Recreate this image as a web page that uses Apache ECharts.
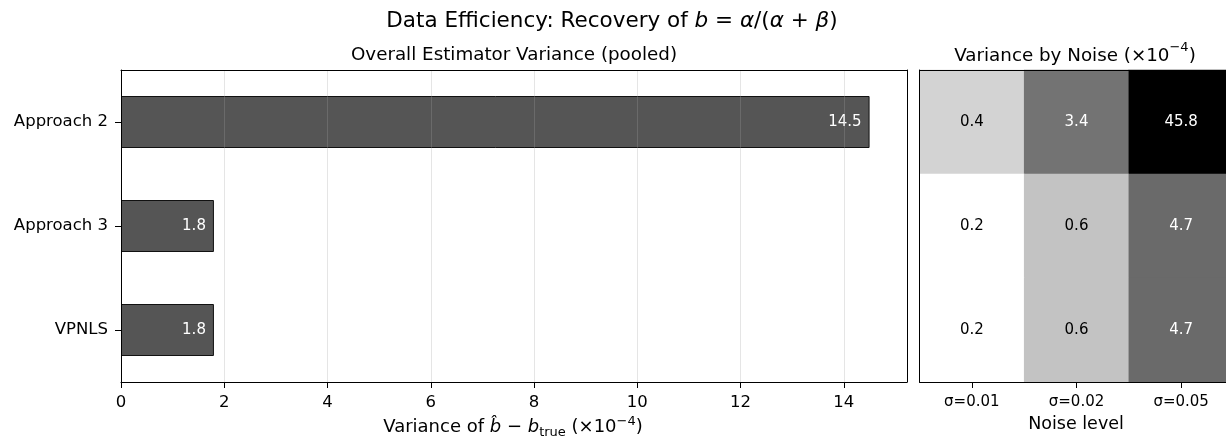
<!DOCTYPE html>
<html>
<head>
<meta charset="utf-8">
<script src="https://cdn.jsdelivr.net/npm/echarts@6/dist/echarts.min.js"></script>
<style>
html,body{margin:0;padding:0;background:#fff;}
#chart{width:1226px;height:441px;}
</style>
</head>
<body>
<div id="chart"></div>
<script>
// ---- data ----
const methods = ['Approach 2', 'Approach 3', 'VPNLS'];
const pooledVariance = [14.5, 1.8, 1.8];
const noiseLevels = ['σ=0.01', 'σ=0.02', 'σ=0.05'];
const varApproach2 = [0.4, 3.4, 45.8];
const varApproach3 = [0.2, 0.6, 4.7];
const varVPNLS = [0.2, 0.6, 4.7];
const xTicks = [0, 2, 4, 6, 8, 10, 12, 14];
const xMax = 15.225;

const FONT = 'DejaVu Sans';
const rows = [varApproach2, varApproach3, varVPNLS];
const heatData = [];
rows.forEach((row, r) => row.forEach((v, c) => heatData.push([c, r, v])));

const chart = echarts.init(document.getElementById('chart'), null, {renderer: 'canvas'});

const boxLine = {show: true, onZero: false, lineStyle: {color: '#000', width: 1}};
const hidden = {show: false};

const option = {
  animation: false,
  backgroundColor: '#fff',
  textStyle: {fontFamily: FONT},
  tooltip: {show: false},
  grid: [
    {left: 121, top: 70, width: 786, height: 312, outerBoundsMode: 'none', containLabel: false},
    {left: 919.5, top: 70, width: 314, height: 312, outerBoundsMode: 'none', containLabel: false}
  ],
  xAxis: [
    {
      gridIndex: 0, type: 'value', position: 'bottom', min: 0, max: xMax, interval: 2, z: 5,
      axisLine: boxLine,
      axisTick: {show: true, length: 6, lineStyle: {color: '#000'}, customValues: xTicks},
      axisLabel: {fontFamily: FONT, fontSize: 16.5, color: '#000', margin: 12, customValues: xTicks},
      splitLine: {show: true, lineStyle: {color: 'rgba(160,160,160,0.28)', width: 1}},
      minorTick: hidden, minorSplitLine: hidden, splitArea: hidden
    },
    {
      gridIndex: 0, type: 'category', position: 'top', data: [''], z: 5,
      axisLine: boxLine, axisTick: hidden, axisLabel: hidden, splitLine: hidden, splitArea: hidden
    },
    {
      gridIndex: 1, type: 'category', position: 'bottom', data: noiseLevels, z: 10,
      axisLine: boxLine,
      axisTick: {show: true, alignWithLabel: true, length: 6, lineStyle: {color: '#000'}},
      axisLabel: {fontFamily: FONT, fontSize: 15, color: '#000', margin: 13},
      splitLine: hidden
    },
    {
      gridIndex: 1, type: 'category', position: 'top', data: noiseLevels, z: 10,
      axisLine: boxLine, axisTick: hidden, axisLabel: hidden, splitLine: hidden
    }
  ],
  yAxis: [
    {
      gridIndex: 0, type: 'category', position: 'left', data: methods, inverse: true, z: 5,
      axisLine: boxLine,
      axisTick: {show: true, alignWithLabel: true, length: 6, lineStyle: {color: '#000'}},
      axisLabel: {fontFamily: FONT, fontSize: 16.5, color: '#000', margin: 13},
      splitLine: hidden
    },
    {
      gridIndex: 0, type: 'category', position: 'right', data: methods, inverse: true, z: 5,
      axisLine: boxLine, axisTick: hidden, axisLabel: hidden, splitLine: hidden
    },
    {
      gridIndex: 1, type: 'category', position: 'left', data: methods, inverse: true, z: 10,
      axisLine: boxLine, axisTick: hidden, axisLabel: hidden, splitLine: hidden
    },
    {
      gridIndex: 1, type: 'category', position: 'right', data: methods, inverse: true, z: 10,
      axisLine: boxLine, axisTick: hidden, axisLabel: hidden, splitLine: hidden
    }
  ],
  visualMap: {
    type: 'piecewise', show: false, seriesIndex: 1, dimension: 2,
    pieces: [
      {lt: 0.3, color: '#ffffff'},
      {gte: 0.3, lt: 0.5, color: '#d3d3d3'},
      {gte: 0.5, lt: 1.0, color: '#c3c3c3'},
      {gte: 1.0, lt: 4.0, color: '#737373'},
      {gte: 4.0, lt: 10, color: '#6a6a6a'},
      {gte: 10, color: '#000000'}
    ]
  },
  series: [
    {
      type: 'bar', xAxisIndex: 0, yAxisIndex: 0, data: pooledVariance, barWidth: '50%',
      itemStyle: {color: '#555555', borderColor: '#111', borderWidth: 1},
      label: {
        show: true, position: 'insideRight', distance: 8, color: '#fff',
        fontFamily: FONT, fontSize: 15,
        formatter: p => p.value.toFixed(1)
      },
      emphasis: {disabled: true}
    },
    {
      type: 'heatmap', xAxisIndex: 2, yAxisIndex: 2, data: heatData,
      itemStyle: {borderWidth: 0},
      label: {
        show: true,
        formatter: p => (p.value[2] > 2 ? '{w|' : '{k|') + p.value[2].toFixed(1) + '}',
        rich: {
          w: {color: '#fff', fontFamily: FONT, fontSize: 15},
          k: {color: '#000', fontFamily: FONT, fontSize: 15}
        }
      },
      emphasis: {disabled: true}
    }
  ],
  graphic: [
    {
      type: 'text', x: 612, y: 21, silent: true,
      style: {
        text: '{n|Data Efficiency: Recovery of }{i|b}{n| = }{i|α}{n|/(}{i|α}{n| + }{i|β}{n|)}',
        align: 'center', verticalAlign: 'middle',
        rich: {
          n: {fontFamily: FONT, fontSize: 21.5, fill: '#000'},
          i: {fontFamily: FONT, fontSize: 21.5, fontStyle: 'italic', fill: '#000'}
        }
      }
    },
    {
      type: 'text', x: 514, y: 55, silent: true,
      style: {
        text: 'Overall Estimator Variance (pooled)', align: 'center', verticalAlign: 'middle',
        fontFamily: FONT, fontSize: 18.3, fill: '#000'
      }
    },
    {
      type: 'text', x: 1075, y: 53, silent: true,
      style: {
        text: '{n|Variance by Noise (×10}{s|−4}{n|)}', align: 'center', verticalAlign: 'middle',
        rich: {
          n: {fontFamily: FONT, fontSize: 18.3, fill: '#000', lineHeight: 24, verticalAlign: 'bottom'},
          s: {fontFamily: FONT, fontSize: 13, fill: '#000', lineHeight: 13, verticalAlign: 'top'}
        }
      }
    },
    {
      type: 'text', x: 513, y: 427, silent: true,
      style: {
        text: '{n|Variance of }{i|b\u0302}{n| − }{i|b}{sub|true}{n| (×10}{s|−4}{n|)}',
        align: 'center', verticalAlign: 'middle',
        rich: {
          n: {fontFamily: FONT, fontSize: 18, fill: '#000', lineHeight: 24, verticalAlign: 'middle'},
          i: {fontFamily: FONT, fontSize: 18, fontStyle: 'italic', fill: '#000', lineHeight: 24, verticalAlign: 'middle'},
          sub: {fontFamily: FONT, fontSize: 13, fill: '#000', lineHeight: 13, verticalAlign: 'bottom'},
          s: {fontFamily: FONT, fontSize: 13, fill: '#000', lineHeight: 13, verticalAlign: 'top'}
        }
      }
    },
    {
      type: 'text', x: 1076, y: 424, silent: true,
      style: {
        text: 'Noise level', align: 'center', verticalAlign: 'middle',
        fontFamily: FONT, fontSize: 17.5, fill: '#000'
      }
    }
  ]
};
chart.setOption(option);
</script>
</body>
</html>
